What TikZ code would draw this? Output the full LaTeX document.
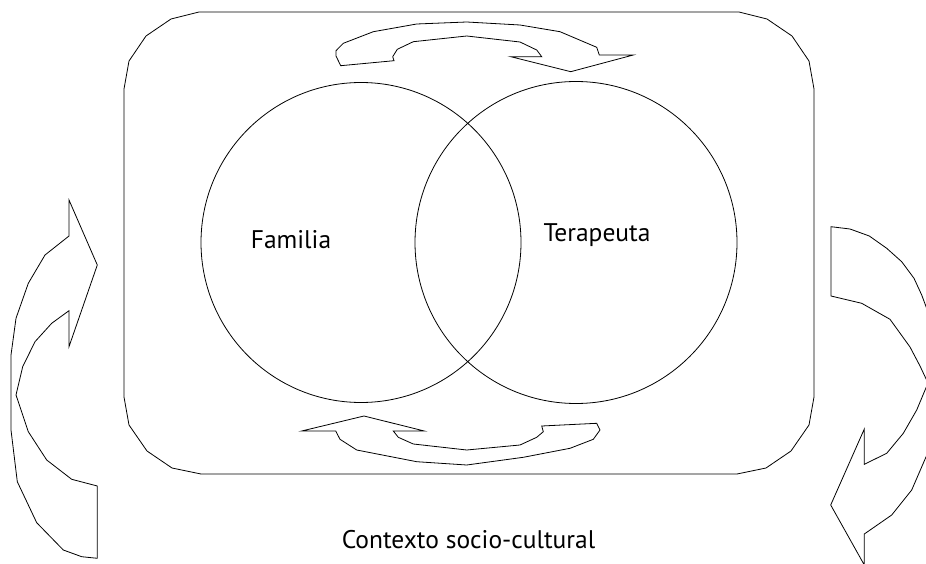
\documentclass[tikz,border=0pt]{standalone}
\usepackage{fontspec}
\setmainfont{PT Sans}
\begin{document}
\begin{tikzpicture}[x=1pt,y=-1pt,
  outline/.style={draw=black, line width=0.8pt, line join=miter},
  txt/.style={font=\fontsize{25.5}{28}\selectfont, inner sep=0pt}]
\useasboundingbox (0,0) rectangle (926,564);
\clip (0,0) rectangle (926,564);

% context frame with faceted corners
\draw[outline] (124,89) -- (129,61) -- (146,36) -- (171,19) -- (199,12)
  -- (739,12) -- (767,19) -- (792,36) -- (809,61) -- (814,89)
  -- (814,397) -- (809,425) -- (791,451) -- (766,468) -- (737,474)
  -- (201,474) -- (172,468) -- (147,451) -- (129,425) -- (124,397) -- cycle;

% overlapping circles
\draw[outline] (361,242.5) circle[radius=160];
\draw[outline] (576,242.5) circle[radius=161];

\node[txt] (familia) at (291,240) {Familia};
\node[txt] (terapeuta) at (597,235) {Terapeuta};
\node[txt] (contexto) at (468.5,540) {Contexto socio-cultural};

% curved arrow above the circles (left to right)
\draw[outline] (336,56) -- (340.7,65.7) -- (394,60.7) -- (392.7,56.7) -- (397.3,49.3)
  -- (413.3,41.7) -- (466.7,36) -- (520,42) -- (536.7,50) -- (541.7,56.7)
  -- (510.7,56.7) -- (570.7,71.7) -- (633.3,55) -- (599.3,55) -- (596.7,47.3)
  -- (560,31.7) -- (520,25) -- (466.7,22) -- (416.7,24) -- (373.3,31.7)
  -- (343.3,43.3) -- (336,50.7) -- cycle;

% curved arrow below the circles (right to left)
\draw[outline] (301.7,431) -- (364,416) -- (424.3,431) -- (393.3,431) -- (398.3,437.3)
  -- (413.3,444) -- (466.7,450) -- (520,445) -- (536.7,437.3) -- (543.3,431.7)
  -- (541.7,426) -- (596.7,423.3) -- (600,430) -- (593.3,439.3) -- (570,448.3)
  -- (523.3,457.3) -- (466.7,465) -- (416.7,461.7) -- (356.7,450) -- (340,439.3)
  -- (335.7,431) -- cycle;

% left arrow, pointing up
\draw[outline] (69,200) -- (97.3,265) -- (69,346.7) -- (69,310.7) -- (61.7,316)
  -- (51.7,323.3) -- (35,341.7) -- (22.7,366.7) -- (16,395) -- (28.3,431.7)
  -- (46.7,460) -- (71.7,479.3) -- (97.3,486) -- (97.3,558.3) -- (81.7,556.7)
  -- (63.3,550) -- (36.7,522.7) -- (17.3,481.7) -- (11,430) -- (11,355)
  -- (16,318.3) -- (28.3,283.3) -- (45,255) -- (69,236) -- cycle;

% right arrow, pointing down
\draw[outline] (831,226.7) -- (850,229) -- (869.3,236) -- (886.7,248.3) -- (901.7,261.7)
  -- (914,278.3) -- (921.7,295) -- (928,312) -- (937,340) -- (942,375)
  -- (938,412) -- (929,450) -- (911.7,490) -- (891.7,515) -- (864.3,534)
  -- (864.3,565) -- (830.7,505) -- (864.3,429) -- (864.3,464.3) -- (886.7,453.3)
  -- (903.3,433.3) -- (916.7,410) -- (928,383) -- (920,366) -- (910,347)
  -- (890,319.3) -- (861.7,303.3) -- (831,296) -- cycle;
\end{tikzpicture}
\end{document}
